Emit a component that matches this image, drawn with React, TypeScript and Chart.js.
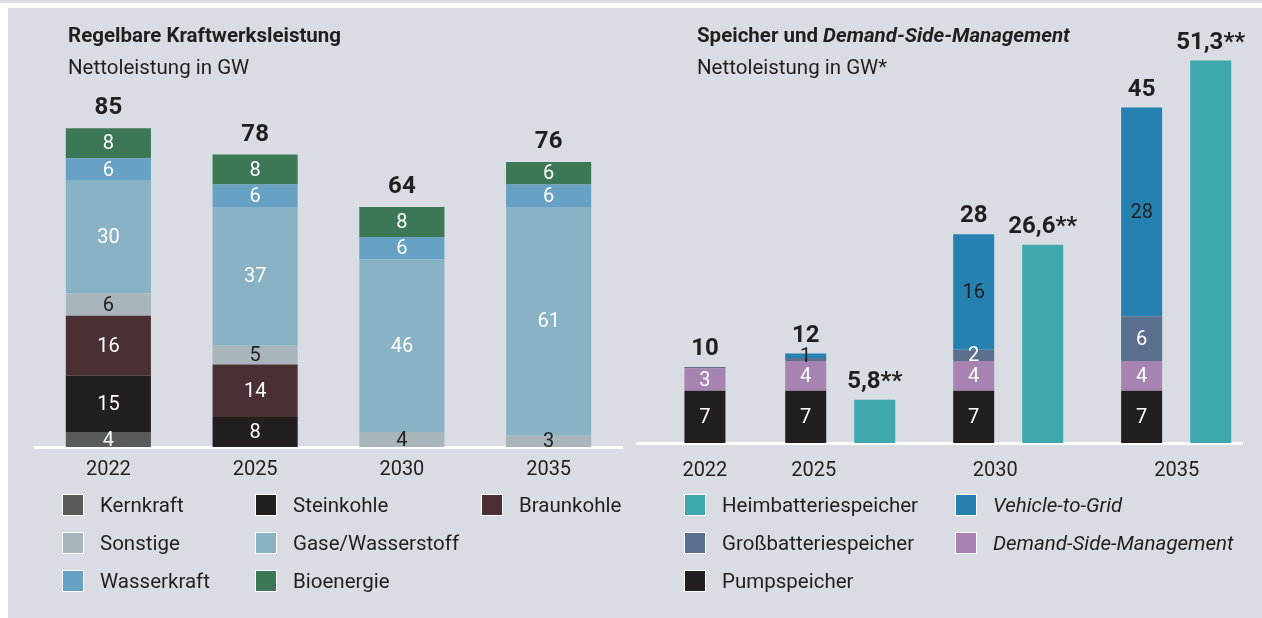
import React, { useEffect, useRef } from 'react';
import { Chart, registerables } from 'chart.js';

Chart.register(...registerables);

// ---------- Data: Regelbare Kraftwerksleistung (GW) ----------
const years = ['2022', '2025', '2030', '2035'];
const kernkraft = [4, 0, 0, 0];
const steinkohle = [15, 8, 0, 0];
const braunkohle = [16, 14, 0, 0];
const sonstige = [6, 5, 4, 3];
const gaseWasserstoff = [30, 37, 46, 61];
const wasserkraft = [6, 6, 6, 6];
const bioenergie = [8, 8, 8, 6];

// ---------- Data: Speicher und Demand-Side-Management (GW) ----------
const storageYears = [2022, 2025, 2030, 2035];
const pumpspeicher = [7, 7, 7, 7];
const demandSide = [3, 4, 4, 4];
const grossbatterie = [0.2, 0.4, 1.5, 6];
const vehicleToGrid = [0, 0.6, 15.5, 28];
const heimbatterie = [null, 5.8, 26.6, 51.3];

const FONT = 'Roboto, "Open Sans", sans-serif';
const TEXT = '#231f20';
const BG = '#d9dce3';

const C = {
  kern: '#575c5b',
  stein: '#231f20',
  braun: '#4a3033',
  sonst: '#a8b5bb',
  gase: '#89b3c4',
  wasser: '#67a1c4',
  bio: '#3c7756',
  heim: '#3ea8ac',
  v2g: '#2481b0',
  gross: '#5b6f8e',
  dsm: '#a683b0',
  pump: '#231f20',
};

Chart.defaults.font.family = FONT;
Chart.defaults.color = TEXT;

function makeLabelPlugin(totalFmt: (v: number) => string, sideFmt: (v: number) => string, offset: number) {
  return {
    id: 'barLabels',
    afterDatasetsDraw(chart: any) {
      const ctx = chart.ctx;
      ctx.save();
      ctx.textAlign = 'center';
      ctx.textBaseline = 'middle';
      const n = chart.data.labels.length;
      const tops: { x: number; y: number; sum: number }[] = [];
      for (let i = 0; i < n; i++) tops.push({ x: 0, y: Infinity, sum: 0 });
      chart.data.datasets.forEach((ds: any, di: number) => {
        const meta = chart.getDatasetMeta(di);
        meta.data.forEach((el: any, i: number) => {
          const v = ds.data[i];
          if (v == null || v <= 0) return;
          const { x, y, base } = el.getProps(['x', 'y', 'base'], true);
          if (ds.stack === 'a') {
            tops[i].sum += v;
            tops[i].x = x;
            tops[i].y = Math.min(tops[i].y, y);
            if (Math.round(v) >= 1) {
              ctx.font = `20px ${FONT}`;
              ctx.fillStyle = ds.labelColor;
              ctx.fillText(String(Math.round(v)), x, (y + base) / 2 + 1);
            }
          } else {
            ctx.font = `bold 24px ${FONT}`;
            ctx.fillStyle = TEXT;
            ctx.fillText(sideFmt(v), x, y - offset);
          }
        });
      });
      ctx.font = `bold 24px ${FONT}`;
      ctx.fillStyle = TEXT;
      tops.forEach((t) => {
        if (t.sum > 0) ctx.fillText(totalFmt(t.sum), t.x, t.y - offset);
      });
      ctx.restore();
    },
  };
}

const leftLegend = [
  { label: 'Kernkraft', color: C.kern, col: 0, row: 0 },
  { label: 'Steinkohle', color: C.stein, col: 1, row: 0 },
  { label: 'Braunkohle', color: C.braun, col: 2, row: 0 },
  { label: 'Sonstige', color: C.sonst, col: 0, row: 1 },
  { label: 'Gase/Wasserstoff', color: C.gase, col: 1, row: 1 },
  { label: 'Wasserkraft', color: C.wasser, col: 0, row: 2 },
  { label: 'Bioenergie', color: C.bio, col: 1, row: 2 },
];
const rightLegend = [
  { label: 'Heimbatteriespeicher', color: C.heim, col: 0, row: 0, italic: false },
  { label: 'Vehicle-to-Grid', color: C.v2g, col: 1, row: 0, italic: true },
  { label: 'Großbatteriespeicher', color: C.gross, col: 0, row: 1, italic: false },
  { label: 'Demand-Side-Management', color: C.dsm, col: 1, row: 1, italic: true },
  { label: 'Pumpspeicher', color: C.pump, col: 0, row: 2, italic: false },
];
const leftCols = [62, 255, 481];
const rightCols = [684, 955];
const rows = [505, 543, 581];

function Legend({ items, cols }: { items: any[]; cols: number[] }) {
  return (
    <>
      {items.map((it) => (
        <React.Fragment key={it.label}>
          <div
            style={{
              position: 'fixed',
              left: cols[it.col],
              top: rows[it.row] - 11,
              width: 22,
              height: 22,
              boxSizing: 'border-box',
              border: '1.5px solid #ffffff',
              background: it.color,
            }}
          />
          <div
            style={{
              position: 'fixed',
              left: cols[it.col] + 38,
              top: rows[it.row] - 12,
              height: 24,
              lineHeight: '24px',
              fontSize: 20.5,
              fontFamily: FONT,
              fontStyle: it.italic ? 'italic' : 'normal',
              color: TEXT,
              whiteSpace: 'nowrap',
            }}
          >
            {it.label}
          </div>
        </React.Fragment>
      ))}
    </>
  );
}

const yearTicks = (scale: any) => {
  scale.ticks = storageYears.map((v) => ({ value: v }));
};

export default function App() {
  const leftRef = useRef<HTMLCanvasElement>(null);
  const rightRef = useRef<HTMLCanvasElement>(null);

  useEffect(() => {
    const left = new Chart(leftRef.current as HTMLCanvasElement, {
      type: 'bar',
      data: {
        labels: years,
        datasets: [
          { label: 'Kernkraft', data: kernkraft, backgroundColor: C.kern, stack: 'a', labelColor: '#ffffff' } as any,
          { label: 'Steinkohle', data: steinkohle, backgroundColor: C.stein, stack: 'a', labelColor: '#ffffff' },
          { label: 'Braunkohle', data: braunkohle, backgroundColor: C.braun, stack: 'a', labelColor: '#ffffff' },
          { label: 'Sonstige', data: sonstige, backgroundColor: C.sonst, stack: 'a', labelColor: TEXT },
          { label: 'Gase/Wasserstoff', data: gaseWasserstoff, backgroundColor: C.gase, stack: 'a', labelColor: '#ffffff' },
          { label: 'Wasserkraft', data: wasserkraft, backgroundColor: C.wasser, stack: 'a', labelColor: '#ffffff' },
          { label: 'Bioenergie', data: bioenergie, backgroundColor: C.bio, stack: 'a', labelColor: '#ffffff' },
        ],
      },
      options: {
        responsive: false,
        animation: false,
        events: [],
        layout: { padding: { left: 35, right: 9, top: 72, bottom: 125 } },
        datasets: { bar: { categoryPercentage: 1, barPercentage: 0.58 } },
        plugins: { legend: { display: false }, tooltip: { enabled: false } },
        scales: {
          x: {
            stacked: true,
            grid: { display: false, drawTicks: false },
            border: { display: true, color: '#ffffff', width: 3 },
            ticks: { padding: 11, font: { size: 20 }, color: TEXT, maxRotation: 0 },
          },
          y: { stacked: true, display: false, min: 0, max: 100 },
        },
      },
      plugins: [makeLabelPlugin((v) => String(Math.round(v)), (v) => String(v), 20)],
    } as any);

    const right = new Chart(rightRef.current as HTMLCanvasElement, {
      type: 'bar',
      data: {
        labels: storageYears,
        datasets: [
          { label: 'Pumpspeicher', data: pumpspeicher, backgroundColor: C.pump, stack: 'a', xAxisID: 'xb', labelColor: '#ffffff' } as any,
          { label: 'Demand-Side-Management', data: demandSide, backgroundColor: C.dsm, stack: 'a', xAxisID: 'xb', labelColor: '#ffffff' },
          { label: 'Großbatteriespeicher', data: grossbatterie, backgroundColor: C.gross, stack: 'a', xAxisID: 'xb', labelColor: '#ffffff' },
          { label: 'Vehicle-to-Grid', data: vehicleToGrid, backgroundColor: C.v2g, stack: 'a', xAxisID: 'xb', labelColor: TEXT },
          { label: 'Heimbatteriespeicher', data: heimbatterie, backgroundColor: C.heim, stack: 'b', xAxisID: 'xb' },
        ],
      },
      options: {
        responsive: false,
        animation: false,
        events: [],
        layout: { padding: { left: 6, right: 20, top: 33, bottom: 119 } },
        datasets: { bar: { categoryPercentage: 1.37, barPercentage: 0.594, maxBarThickness: 41 } },
        plugins: { legend: { display: false }, tooltip: { enabled: false } },
        scales: {
          // axis carrying the bars (hidden)
          xb: {
            type: 'linear',
            position: 'bottom',
            display: false,
            stacked: true,
            offset: false,
            min: 2018.95,
            max: 2036.96,
            afterBuildTicks: yearTicks,
          },
          // visible year axis
          x: {
            type: 'linear',
            position: 'bottom',
            offset: false,
            min: 2020.13,
            max: 2036.8,
            afterBuildTicks: yearTicks,
            grid: { display: false, drawTicks: false },
            border: { display: true, color: '#ffffff', width: 3 },
            ticks: {
              padding: 16,
              font: { size: 20 },
              color: TEXT,
              maxRotation: 0,
              autoSkip: false,
              callback: (v: any) => String(v),
            },
          },
          y: { stacked: true, display: false, min: 0, max: 55 },
        },
      },
      plugins: [
        makeLabelPlugin(
          (v) => String(Math.round(v)),
          (v) => v.toLocaleString('de-DE') + '**',
          18
        ),
      ],
    } as any);

    return () => {
      left.destroy();
      right.destroy();
    };
  }, []);

  const titleStyle: React.CSSProperties = {
    position: 'fixed',
    top: 23,
    height: 24,
    lineHeight: '24px',
    fontSize: 20.5,
    fontWeight: 'bold',
    fontFamily: FONT,
    color: TEXT,
    whiteSpace: 'nowrap',
  };
  const subStyle: React.CSSProperties = {
    position: 'fixed',
    top: 55,
    height: 24,
    lineHeight: '24px',
    fontSize: 20.5,
    fontFamily: FONT,
    color: TEXT,
    whiteSpace: 'nowrap',
  };

  return (
    <>
      <div style={{ position: 'fixed', left: 0, top: 0, width: 1262, height: 3, background: BG }} />
      <div style={{ position: 'fixed', left: 8, top: 8, right: 0, bottom: 0, background: BG }} />
      <canvas ref={leftRef} width={631} height={618} style={{ position: 'fixed', left: 0, top: 0 }} />
      <canvas ref={rightRef} width={631} height={618} style={{ position: 'fixed', left: 631, top: 0 }} />
      <div style={{ ...titleStyle, left: 68 }}>Regelbare Kraftwerksleistung</div>
      <div style={{ ...subStyle, left: 68 }}>Nettoleistung in GW</div>
      <div style={{ ...titleStyle, left: 697 }}>
        Speicher und <em>Demand-Side-Management</em>
      </div>
      <div style={{ ...subStyle, left: 697 }}>Nettoleistung in GW*</div>
      <Legend items={leftLegend} cols={leftCols} />
      <Legend items={rightLegend} cols={rightCols} />
    </>
  );
}
